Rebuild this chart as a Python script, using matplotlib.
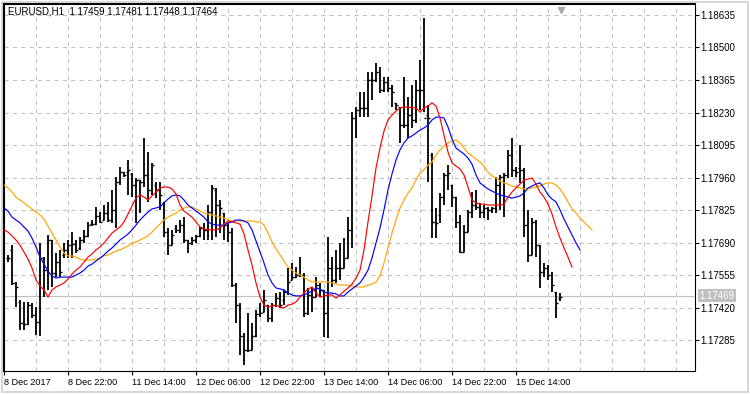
import numpy as np
import matplotlib.pyplot as plt
import matplotlib.transforms as mtransforms
from matplotlib.patches import Rectangle

plt.rcParams["font.family"] = ["Liberation Sans", "DejaVu Sans"]

header = "EURUSD,H1  1.17459 1.17481 1.17448 1.17464"
bid = 1.17469

# H1 bars, oldest first (8 Dec 2017 -> 15 Dec 2017)
opens = [
    1.17626, 1.17660, 1.17523, 1.17444, 1.17357, 1.17352, 1.17431, 1.17390, 1.17361, 1.17626,
    1.17576, 1.17701, 1.17564, 1.17610, 1.17639, 1.17660, 1.17680, 1.17684, 1.17668, 1.17701,
    1.17718, 1.17767, 1.17767, 1.17801, 1.17784, 1.17813, 1.17784, 1.17826, 1.17942, 1.17983,
    1.17983, 1.17975, 1.17929, 1.17950, 1.17942, 1.17971, 1.17909, 1.17929, 1.17909, 1.17855,
    1.17734, 1.17680, 1.17751, 1.17742, 1.17763, 1.17701, 1.17689, 1.17701, 1.17718, 1.17751,
    1.17742, 1.17817, 1.17909, 1.17846, 1.17813, 1.17763, 1.17734, 1.17514, 1.17431, 1.17303,
    1.17245, 1.17245, 1.17303, 1.17394, 1.17402, 1.17431, 1.17377, 1.17431, 1.17460, 1.17452,
    1.17485, 1.17535, 1.17547, 1.17556, 1.17556, 1.17398, 1.17473, 1.17464, 1.17514, 1.17494,
    1.17398, 1.17585, 1.17535, 1.17585, 1.17585, 1.17626, 1.17742, 1.18207, 1.18241, 1.18249,
    1.18249, 1.18365, 1.18365, 1.18398, 1.18324, 1.18357, 1.18332, 1.18270, 1.18253, 1.18178,
    1.18178, 1.18220, 1.18199, 1.18324, 1.18324, 1.18220, 1.18054, 1.17776, 1.17805, 1.17879,
    1.17971, 1.17929, 1.17879, 1.17776, 1.17651, 1.17734, 1.17817, 1.17846, 1.17838, 1.17817,
    1.17834, 1.17826, 1.17834, 1.17929, 1.17962, 1.17971, 1.18054, 1.17992, 1.18000, 1.17992,
    1.17763, 1.17639, 1.17776, 1.17680, 1.17568, 1.17585, 1.17556, 1.17485, 1.17459,
]
highs = [
    1.17639, 1.17680, 1.17527, 1.17452, 1.17444, 1.17444, 1.17440, 1.17423, 1.17689, 1.17630,
    1.17722, 1.17701, 1.17647, 1.17660, 1.17689, 1.17701, 1.17734, 1.17701, 1.17713, 1.17742,
    1.17776, 1.17784, 1.17838, 1.17817, 1.17846, 1.17859, 1.17909, 1.17962, 1.18004, 1.17983,
    1.18033, 1.17979, 1.17958, 1.17950, 1.18124, 1.18066, 1.18021, 1.17942, 1.17942, 1.17859,
    1.17751, 1.17742, 1.17763, 1.17784, 1.17796, 1.17701, 1.17713, 1.17722, 1.17755, 1.17772,
    1.17846, 1.17929, 1.17917, 1.17867, 1.17813, 1.17772, 1.17751, 1.17523, 1.17440, 1.17315,
    1.17398, 1.17357, 1.17411, 1.17440, 1.17494, 1.17431, 1.17440, 1.17481, 1.17485, 1.17494,
    1.17585, 1.17606, 1.17589, 1.17630, 1.17564, 1.17502, 1.17506, 1.17547, 1.17523, 1.17494,
    1.17713, 1.17630, 1.17660, 1.17689, 1.17709, 1.17796, 1.18232, 1.18253, 1.18315, 1.18315,
    1.18398, 1.18398, 1.18436, 1.18419, 1.18377, 1.18377, 1.18344, 1.18270, 1.18253, 1.18377,
    1.18294, 1.18344, 1.18365, 1.18448, 1.18622, 1.18261, 1.18062, 1.17834, 1.17896, 1.17979,
    1.18012, 1.17929, 1.17879, 1.17805, 1.17763, 1.17826, 1.17900, 1.17909, 1.17855, 1.17846,
    1.17838, 1.17838, 1.17962, 1.17971, 1.17979, 1.18075, 1.18124, 1.18004, 1.18095, 1.18000,
    1.17826, 1.17792, 1.17784, 1.17680, 1.17606, 1.17597, 1.17568, 1.17485, 1.17481,
]
lows = [
    1.17610, 1.17514, 1.17423, 1.17327, 1.17327, 1.17348, 1.17377, 1.17307, 1.17303, 1.17464,
    1.17494, 1.17506, 1.17547, 1.17547, 1.17626, 1.17626, 1.17626, 1.17647, 1.17660, 1.17689,
    1.17713, 1.17759, 1.17763, 1.17772, 1.17784, 1.17776, 1.17772, 1.17751, 1.17929, 1.17962,
    1.17888, 1.17879, 1.17772, 1.17813, 1.17921, 1.17859, 1.17888, 1.17875, 1.17826, 1.17713,
    1.17639, 1.17680, 1.17730, 1.17730, 1.17689, 1.17647, 1.17680, 1.17689, 1.17713, 1.17701,
    1.17701, 1.17701, 1.17713, 1.17730, 1.17701, 1.17693, 1.17506, 1.17357, 1.17224, 1.17182,
    1.17236, 1.17245, 1.17298, 1.17381, 1.17402, 1.17361, 1.17361, 1.17423, 1.17419, 1.17431,
    1.17473, 1.17535, 1.17543, 1.17547, 1.17381, 1.17390, 1.17402, 1.17464, 1.17464, 1.17298,
    1.17294, 1.17506, 1.17523, 1.17535, 1.17585, 1.17626, 1.17668, 1.18124, 1.18211, 1.18211,
    1.18211, 1.18282, 1.18357, 1.18311, 1.18315, 1.18315, 1.18253, 1.18241, 1.18104, 1.18166,
    1.18124, 1.18166, 1.18187, 1.18241, 1.18232, 1.17942, 1.17709, 1.17709, 1.17772, 1.17846,
    1.17909, 1.17838, 1.17751, 1.17647, 1.17651, 1.17734, 1.17792, 1.17826, 1.17792, 1.17792,
    1.17784, 1.17813, 1.17813, 1.17826, 1.17796, 1.17958, 1.17962, 1.17962, 1.17938, 1.17713,
    1.17610, 1.17639, 1.17630, 1.17502, 1.17547, 1.17535, 1.17485, 1.17377, 1.17448,
]
closes = [
    1.17626, 1.17523, 1.17506, 1.17357, 1.17352, 1.17431, 1.17390, 1.17361, 1.17626, 1.17576,
    1.17701, 1.17564, 1.17610, 1.17568, 1.17660, 1.17680, 1.17684, 1.17660, 1.17701, 1.17718,
    1.17763, 1.17767, 1.17801, 1.17776, 1.17813, 1.17784, 1.17826, 1.17942, 1.17983, 1.17971,
    1.17992, 1.17929, 1.17950, 1.17942, 1.17971, 1.17909, 1.18012, 1.17909, 1.17888, 1.17734,
    1.17680, 1.17722, 1.17742, 1.17763, 1.17701, 1.17689, 1.17701, 1.17718, 1.17751, 1.17742,
    1.17817, 1.17917, 1.17846, 1.17834, 1.17763, 1.17734, 1.17514, 1.17431, 1.17303, 1.17245,
    1.17245, 1.17303, 1.17394, 1.17398, 1.17452, 1.17377, 1.17431, 1.17460, 1.17431, 1.17485,
    1.17527, 1.17547, 1.17556, 1.17556, 1.17398, 1.17473, 1.17464, 1.17514, 1.17494, 1.17398,
    1.17585, 1.17535, 1.17585, 1.17585, 1.17626, 1.17742, 1.18207, 1.18241, 1.18249, 1.18249,
    1.18365, 1.18365, 1.18398, 1.18324, 1.18357, 1.18332, 1.18315, 1.18261, 1.18178, 1.18178,
    1.18220, 1.18199, 1.18324, 1.18324, 1.18207, 1.18207, 1.17776, 1.17772, 1.17879, 1.17971,
    1.17979, 1.17879, 1.17776, 1.17651, 1.17734, 1.17817, 1.17846, 1.17838, 1.17817, 1.17834,
    1.17826, 1.17834, 1.17929, 1.17962, 1.17971, 1.18054, 1.17992, 1.17983, 1.17992, 1.17763,
    1.17639, 1.17776, 1.17680, 1.17568, 1.17585, 1.17556, 1.17514, 1.17440, 1.17464,
]

# shifted moving averages, first value sits one bar left of bar 0
ma_red = [
    1.17743,
    1.17734, 1.17718, 1.17701, 1.17680, 1.17651, 1.17622, 1.17585, 1.17535, 1.17510, 1.17494,
    1.17464, 1.17494, 1.17506, 1.17514, 1.17523, 1.17539, 1.17560, 1.17576, 1.17589, 1.17610,
    1.17630, 1.17643, 1.17660, 1.17672, 1.17689, 1.17709, 1.17730, 1.17743, 1.17755, 1.17776,
    1.17809, 1.17842, 1.17875, 1.17888, 1.17879, 1.17867, 1.17884, 1.17900, 1.17917, 1.17921,
    1.17921, 1.17913, 1.17892, 1.17846, 1.17821, 1.17809, 1.17796, 1.17776, 1.17755, 1.17747,
    1.17743, 1.17743, 1.17743, 1.17751, 1.17767, 1.17780, 1.17776, 1.17772, 1.17767, 1.17726,
    1.17660, 1.17597, 1.17523, 1.17464, 1.17431, 1.17423, 1.17427, 1.17431, 1.17423, 1.17419,
    1.17431, 1.17435, 1.17444, 1.17464, 1.17481, 1.17498, 1.17506, 1.17481, 1.17464, 1.17469,
    1.17473, 1.17473, 1.17460, 1.17473, 1.17489, 1.17502, 1.17518, 1.17543, 1.17576, 1.17660,
    1.17776, 1.17884, 1.18000, 1.18083, 1.18153, 1.18199, 1.18220, 1.18236, 1.18249, 1.18253,
    1.18253, 1.18249, 1.18249, 1.18232, 1.18249, 1.18257, 1.18270, 1.18257, 1.18207, 1.18137,
    1.18066, 1.18021, 1.18008, 1.17996, 1.17971, 1.17921, 1.17867, 1.17855, 1.17850, 1.17850,
    1.17846, 1.17846, 1.17846, 1.17846, 1.17850, 1.17879, 1.17900, 1.17917, 1.17933, 1.17950,
    1.17954, 1.17958, 1.17933, 1.17900, 1.17879, 1.17850, 1.17809, 1.17755, 1.17709, 1.17668,
    1.17630, 1.17589,
]
ma_blue = [
    1.17834,
    1.17821, 1.17796, 1.17784, 1.17772, 1.17755, 1.17738, 1.17709, 1.17672, 1.17630, 1.17601,
    1.17572, 1.17552, 1.17543, 1.17547, 1.17547, 1.17547, 1.17547, 1.17556, 1.17564, 1.17576,
    1.17593, 1.17601, 1.17614, 1.17626, 1.17639, 1.17655, 1.17668, 1.17684, 1.17701, 1.17713,
    1.17726, 1.17743, 1.17763, 1.17784, 1.17801, 1.17817, 1.17830, 1.17834, 1.17838, 1.17855,
    1.17871, 1.17884, 1.17888, 1.17884, 1.17867, 1.17846, 1.17834, 1.17821, 1.17809, 1.17796,
    1.17776, 1.17767, 1.17763, 1.17763, 1.17763, 1.17772, 1.17776, 1.17784, 1.17784, 1.17780,
    1.17772, 1.17743, 1.17697, 1.17651, 1.17606, 1.17556, 1.17523, 1.17502, 1.17498, 1.17494,
    1.17481, 1.17473, 1.17469, 1.17469, 1.17473, 1.17481, 1.17489, 1.17502, 1.17498, 1.17485,
    1.17481, 1.17481, 1.17477, 1.17469, 1.17469, 1.17485, 1.17498, 1.17510, 1.17523, 1.17547,
    1.17576, 1.17626, 1.17689, 1.17751, 1.17826, 1.17909, 1.17975, 1.18033, 1.18075, 1.18104,
    1.18124, 1.18133, 1.18145, 1.18157, 1.18166, 1.18178, 1.18199, 1.18211, 1.18211, 1.18207,
    1.18170, 1.18120, 1.18083, 1.18070, 1.18058, 1.18041, 1.18016, 1.17971, 1.17938, 1.17925,
    1.17913, 1.17904, 1.17896, 1.17888, 1.17884, 1.17879, 1.17875, 1.17879, 1.17884, 1.17896,
    1.17917, 1.17925, 1.17933, 1.17938, 1.17917, 1.17888, 1.17871, 1.17859, 1.17826, 1.17788,
    1.17755, 1.17722, 1.17689, 1.17660,
]
ma_orange = [
    1.17929,
    1.17917, 1.17900, 1.17879, 1.17867, 1.17855, 1.17842, 1.17830, 1.17817, 1.17805, 1.17788,
    1.17759, 1.17730, 1.17701, 1.17672, 1.17647, 1.17635, 1.17635, 1.17630, 1.17622, 1.17618,
    1.17618, 1.17618, 1.17622, 1.17626, 1.17635, 1.17639, 1.17647, 1.17655, 1.17660, 1.17668,
    1.17676, 1.17689, 1.17693, 1.17701, 1.17709, 1.17718, 1.17734, 1.17751, 1.17767, 1.17784,
    1.17796, 1.17805, 1.17813, 1.17826, 1.17834, 1.17838, 1.17838, 1.17830, 1.17821, 1.17813,
    1.17809, 1.17805, 1.17801, 1.17796, 1.17792, 1.17784, 1.17780, 1.17780, 1.17780, 1.17780,
    1.17780, 1.17780, 1.17776, 1.17776, 1.17763, 1.17730, 1.17693, 1.17664, 1.17639, 1.17614,
    1.17589, 1.17576, 1.17564, 1.17556, 1.17547, 1.17535, 1.17527, 1.17527, 1.17527, 1.17527,
    1.17527, 1.17523, 1.17518, 1.17514, 1.17514, 1.17514, 1.17510, 1.17506, 1.17506, 1.17506,
    1.17514, 1.17518, 1.17527, 1.17552, 1.17606, 1.17668, 1.17730, 1.17784, 1.17834, 1.17867,
    1.17896, 1.17917, 1.17950, 1.17979, 1.17992, 1.18012, 1.18025, 1.18054, 1.18075, 1.18091,
    1.18104, 1.18112, 1.18116, 1.18104, 1.18083, 1.18062, 1.18050, 1.18037, 1.18025, 1.18008,
    1.17983, 1.17967, 1.17958, 1.17946, 1.17938, 1.17933, 1.17925, 1.17921, 1.17917, 1.17913,
    1.17913, 1.17917, 1.17921, 1.17925, 1.17933, 1.17938, 1.17938, 1.17929, 1.17913, 1.17888,
    1.17859, 1.17830, 1.17813, 1.17792, 1.17776, 1.17759, 1.17743,
]

price_ticks = [1.17285, 1.17420, 1.17555, 1.17690, 1.17825, 1.17960,
               1.18095, 1.18230, 1.18365, 1.18500, 1.18635]
time_labels = ["8 Dec 2017", "8 Dec 22:00", "11 Dec 14:00", "12 Dec 06:00",
               "12 Dec 22:00", "13 Dec 14:00", "14 Dec 06:00", "14 Dec 22:00",
               "15 Dec 14:00"]
time_label_bars = [-1, 15, 31, 47, 63, 79, 95, 111, 127]
grid_bars = list(range(7, 172, 8))

fig = plt.figure(figsize=(7.5, 3.94), dpi=100)
ax = fig.add_axes([4 / 750, 1 - 371 / 394, 691 / 750, 367 / 394])
ax.set_xlim(-1, 171.75)
ax.set_ylim(1.171574, 1.186804)

grid_kw = dict(color="#c0c0c0", lw=0.75, dashes=(4, 4), zorder=0)
for p in price_ticks:
    ax.axhline(p, **grid_kw)
for b in grid_bars:
    ax.axvline(b, **grid_kw)

ax.axhline(bid, color="#c0c0c0", lw=0.8, zorder=0.5)

x = np.arange(len(closes))
ax.vlines(x, lows, highs, color="black", lw=1.3, zorder=2)
ax.hlines(opens, x - 0.45, x, color="black", lw=1.0, zorder=2)
ax.hlines(closes, x, x + 0.45, color="black", lw=1.0, zorder=2)

for ma, col in [(ma_orange, "#ffa500"), (ma_blue, "#0000ff"), (ma_red, "#ff0000")]:
    ax.plot(np.arange(len(ma)) - 1, ma, color=col, lw=0.85, zorder=3)

# price scale on the right
ax.yaxis.tick_right()
ax.set_yticks(price_ticks, [f"{p:.5f}" for p in price_ticks])
ax.tick_params(axis="y", direction="out", length=3, width=0.8, pad=1,
               labelsize=7, colors="black")
ax.set_xticks(time_label_bars, time_labels)
ax.tick_params(axis="x", direction="out", length=3, width=0.8, pad=2,
               labelsize=6.6)
for lbl in ax.get_xticklabels():
    lbl.set_horizontalalignment("left")

for side in ["left", "top"]:
    ax.spines[side].set_linewidth(1.5)
for side in ["right", "bottom"]:
    ax.spines[side].set_linewidth(0.8)

trans = mtransforms.blended_transform_factory(ax.transAxes, ax.transData)
ax.annotate(f"{bid:.5f}", xy=(1, bid), xycoords=trans, xytext=(3.2, 0),
            textcoords="offset points", ha="left", va="center", fontsize=7,
            color="white",
            bbox=dict(boxstyle="square,pad=0.15", fc="#c0c0c0", ec="none"))

ax.text(4 / 691, 0.979, header, transform=ax.transAxes, ha="left",
        va="center", fontsize=7)

# chart shift marker
trans_top = mtransforms.blended_transform_factory(ax.transData, ax.transAxes)
ax.plot([len(closes) - 0.7], [0.985], marker="v", ms=5, color="#a8a8a8",
        transform=trans_top, clip_on=False, zorder=4)

fig.patches.append(Rectangle((1.5 / 750, 2.5 / 394), 746 / 750, 390 / 394,
                             transform=fig.transFigure, fill=False,
                             ec="#d0d0d0", lw=1.2))

fig.savefig("out.png", dpi=100)
